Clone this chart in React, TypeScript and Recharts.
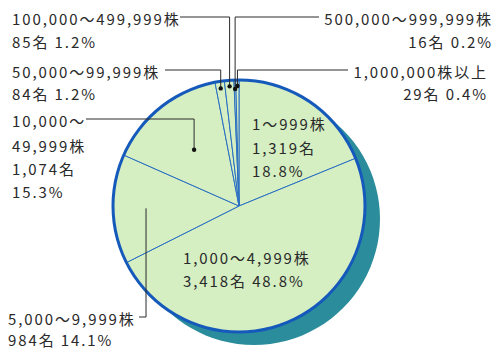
import React from "react";
import { PieChart, Pie, Cell } from "recharts";

// 所有株式数別 株主分布 (clockwise from 12 o'clock)
const categories = [
  "1～999株",
  "1,000～4,999株",
  "5,000～9,999株",
  "10,000～49,999株",
  "50,000～99,999株",
  "100,000～499,999株",
  "500,000～999,999株",
  "1,000,000株以上",
];
const holders = [1319, 3418, 984, 1074, 84, 85, 16, 29];
const shares = [18.8, 48.8, 14.1, 15.3, 1.2, 1.2, 0.2, 0.4];

const data = categories.map((name, i) => ({ name, value: holders[i], pct: shares[i] }));
const wholeData = [{ name: "whole", value: 1 }];

const CX = 239;
const CY = 206;
const R = 126;
const FONT = '"Noto Sans CJK JP", "Noto Sans", sans-serif';
const INK = "#2a2a2a";

type Layout = {
  mode: "two" | "stack";
  x: number;
  ys: number[];
  anchor: "start" | "end";
  breakName?: boolean;
  leader?: { r: number; turnY: number; endX: number; dot: boolean };
};

const layout: Layout[] = [
  { mode: "stack", x: 252, ys: [123, 147, 170], anchor: "start" },
  { mode: "two", x: 183, ys: [257, 280], anchor: "start" },
  { mode: "two", x: 8, ys: [318, 339], anchor: "start", leader: { r: 93, turnY: 317, endX: 139, dot: false } },
  { mode: "stack", x: 12, ys: [120, 145, 168, 191], anchor: "start", breakName: true, leader: { r: 72, turnY: 119, endX: 86, dot: true } },
  { mode: "two", x: 12, ys: [71, 93], anchor: "start", leader: { r: 119, turnY: 70, endX: 165, dot: true } },
  { mode: "two", x: 12, ys: [18, 41], anchor: "start", leader: { r: 120, turnY: 17, endX: 180, dot: true } },
  { mode: "two", x: 493, ys: [18, 41], anchor: "end", leader: { r: 117, turnY: 17, endX: 319, dot: true } },
  { mode: "two", x: 488, ys: [71, 93], anchor: "end", leader: { r: 120, turnY: 70, endX: 348, dot: true } },
];

const RAD = Math.PI / 180;

function labelLines(i: number): string[] {
  const lay = layout[i];
  const name = categories[i];
  const count = holders[i].toLocaleString("en-US") + "名";
  const pct = shares[i].toFixed(1) + "%";
  const nameLines = lay.breakName ? [name.split("～")[0] + "～", name.split("～")[1]] : [name];
  if (lay.mode === "stack") return [...nameLines, count, pct];
  return [...nameLines, count + " " + pct];
}

function renderLabel(props: any) {
  const idx = props.index ?? categories.indexOf(props.name);
  const lay = layout[idx];
  if (!lay) return null;
  const lines = labelLines(idx);
  let leader = null;
  if (lay.leader) {
    const px = props.cx + lay.leader.r * Math.cos(-props.midAngle * RAD);
    const py = props.cy + lay.leader.r * Math.sin(-props.midAngle * RAD);
    leader = (
      <g>
        <path
          d={`M${px},${py} V${lay.leader.turnY} H${lay.leader.endX}`}
          fill="none"
          stroke={INK}
          strokeWidth={1}
        />
        {lay.leader.dot && <circle cx={px} cy={py} r={2.2} fill="#111" />}
      </g>
    );
  }
  return (
    <g key={`lbl-${idx}`}>
      {leader}
      {lines.map((t, k) => (
        <text
          key={k}
          x={lay.x}
          y={lay.ys[k]}
          textAnchor={lay.anchor}
          dominantBaseline="central"
          fill={INK}
          fontSize={15}
          letterSpacing={1.9}
          fontFamily={FONT}
        >
          {t}
        </text>
      ))}
    </g>
  );
}

export default function App() {
  return (
    <div style={{ position: "absolute", left: 0, top: 0, width: 493, height: 350, background: "#fff" }}>
      <PieChart width={493} height={350} margin={{ top: 0, right: 0, bottom: 0, left: 0 }}>
        <Pie
          data={wholeData}
          dataKey="value"
          cx={CX + 15}
          cy={CY + 13}
          outerRadius={R}
          fill="#2b8d9c"
          stroke="none"
          isAnimationActive={false}
        />
        <Pie
          data={data}
          dataKey="value"
          cx={CX}
          cy={CY}
          outerRadius={R}
          startAngle={90}
          endAngle={-270}
          stroke="#2a6fc2"
          strokeWidth={1}
          isAnimationActive={false}
        >
          {data.map((d) => (
            <Cell key={d.name} fill="#d5efc3" />
          ))}
        </Pie>
        <Pie
          data={wholeData}
          dataKey="value"
          cx={CX}
          cy={CY}
          innerRadius={R - 1.5}
          outerRadius={R + 1.5}
          fill="#1559bb"
          stroke="none"
          isAnimationActive={false}
        />
        <Pie
          data={data}
          dataKey="value"
          cx={CX}
          cy={CY}
          outerRadius={R}
          startAngle={90}
          endAngle={-270}
          fill="none"
          stroke="none"
          label={renderLabel}
          labelLine={false}
          isAnimationActive={false}
        />
      </PieChart>
    </div>
  );
}
